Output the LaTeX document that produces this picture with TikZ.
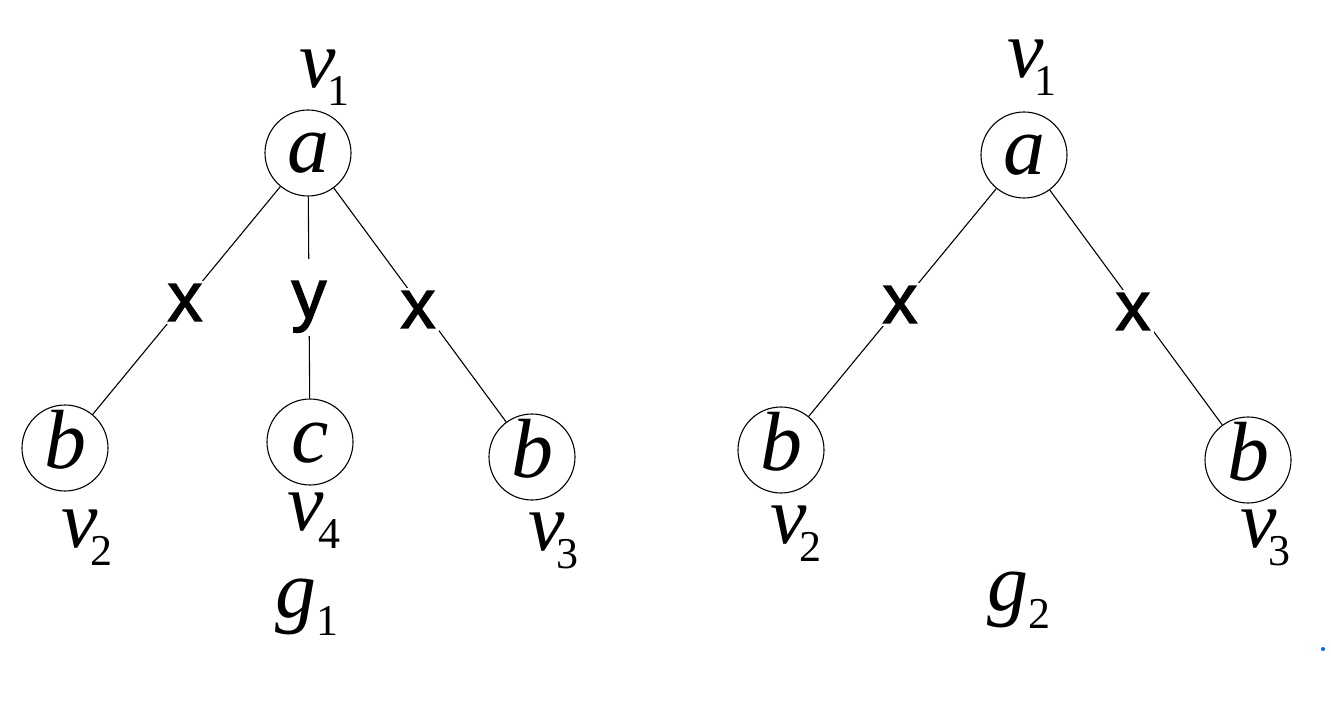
\documentclass[tikz,border=0pt]{standalone}
\usepackage{fontspec}
\setmainfont{Liberation Serif}
\setsansfont{Liberation Sans}
\newfontfamily\edgefont{Liberation Sans}[FakeBold=1.8]
\newcommand{\sublab}[3]{\textit{#1}\kern#3\raisebox{-18pt}{\fontsize{44}{44}\selectfont #2}}
\begin{document}
\begin{tikzpicture}[x=1pt,y=-1pt,
  vtx/.style={circle,draw,line width=1.1pt,minimum size=86pt,inner sep=0pt,
    text height=40pt,text depth=0pt,font=\fontsize{84}{90}\selectfont\itshape},
  edge/.style={line width=1.1pt},
  elab/.style={fill=white,inner sep=3pt,font=\edgefont\fontsize{70}{70}\selectfont},
  lab/.style={anchor=base west,inner sep=0pt,font=\fontsize{82}{90}\selectfont}]
\useasboundingbox (0,0) rectangle (1331,703);
% left tree g1
\node[vtx] (La) at (308,153) {a};
\node[vtx] (Lb2) at (65,448) {b};
\node[vtx] (Lc) at (310,442) {c};
\node[vtx] (Lb3) at (532,457) {b};
\draw[edge] (La) -- (Lb2);
\draw[edge] (La) -- (Lc);
\draw[edge] (La) -- (Lb3);
\node[elab,anchor=base] (Lx1) at (185,321) {x};
\node[elab,anchor=base,text height=56pt] (Ly) at (309,318) {y};
\node[elab,anchor=base] (Lx2) at (418,328) {x};
\node[lab] (Lv1) at (299,88) {\sublab{v}{1}{-8pt}};
\node[lab] (Lv2) at (61,547) {\sublab{v}{2}{-7pt}};
\node[lab] (Lv4) at (287,530) {\sublab{v}{4}{-5pt}};
\node[lab] (Lv3) at (528,550) {\sublab{v}{3}{-8pt}};
\node[lab] (Lg1) at (275,617) {\sublab{g}{1}{0pt}};
% right tree g2
\node[vtx] (Ra) at (1024,155) {a};
\node[vtx] (Rb2) at (781,450) {b};
\node[vtx] (Rb3) at (1248,460) {b};
\draw[edge] (Ra) -- (Rb2);
\draw[edge] (Ra) -- (Rb3);
\node[elab,anchor=base] (Rx1) at (900,323) {x};
\node[elab,anchor=base] (Rx2) at (1133,330) {x};
\node[lab] (Rv1) at (1007,78) {\sublab{v}{1}{-9pt}};
\node[lab] (Rv2) at (770,543) {\sublab{v}{2}{-7pt}};
\node[lab] (Rv3) at (1240,547) {\sublab{v}{3}{-8pt}};
\node[lab] (Rg2) at (987,610) {\sublab{g}{2}{0pt}};
\fill[blue!60!cyan] (1323,649) circle (2pt);
\end{tikzpicture}
\end{document}
